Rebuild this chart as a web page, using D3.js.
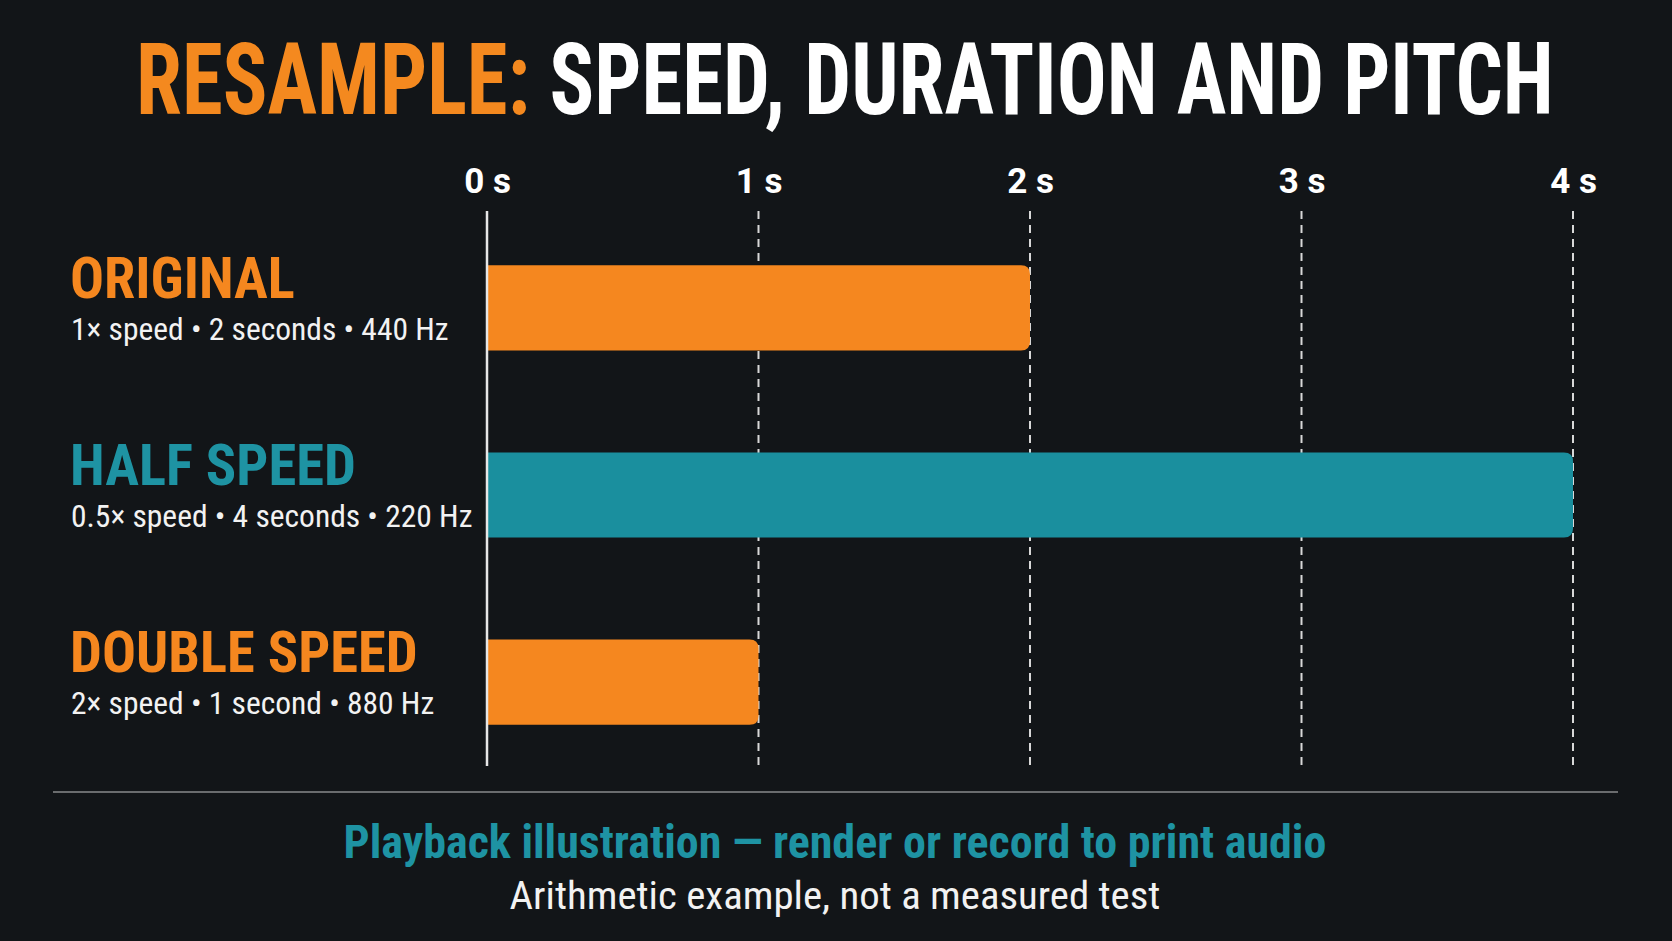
<!DOCTYPE html>
<html>
<head>
<meta charset="utf-8">
<script src="https://cdn.jsdelivr.net/npm/d3@7"></script>
<style>
  html, body { margin: 0; padding: 0; background: #121518; }
  svg { display: block; }
</style>
</head>
<body>
<script>
// ---------- data ----------
const categories = ["ORIGINAL", "HALF SPEED", "DOUBLE SPEED"];
const durations = [2, 4, 1];
const details = [
  "1× speed • 2 seconds • 440 Hz",
  "0.5× speed • 4 seconds • 220 Hz",
  "2× speed • 1 second • 880 Hz"
];
const tickValues = [0, 1, 2, 3, 4];
const tickLabels = ["0 s", "1 s", "2 s", "3 s", "4 s"];
const titleParts = ["RESAMPLE:", " SPEED, DURATION AND PITCH"];
const footerLines = [
  "Playback illustration — render or record to print audio",
  "Arithmetic example, not a measured test"
];

// ---------- style ----------
const W = 1672, H = 941;
const ORANGE = "#F5871F", TEAL = "#1A8F9E", TEAL_TXT = "#1E93A3";
const barColors = [ORANGE, TEAL, ORANGE];
const labelColors = [ORANGE, TEAL_TXT, ORANGE];
const NARROW = "'Liberation Sans Narrow', 'Arial Narrow', 'Roboto Condensed', 'DejaVu Sans Condensed', sans-serif";

const svg = d3.select("body").append("svg").attr("width", W).attr("height", H);
svg.append("rect").attr("width", W).attr("height", H).attr("fill", "#121518");

function fitWidth(sel, target, anchorX) {
  const node = sel.node();
  const w = node.getBBox().width;
  if (w > 0) {
    const k = target / w;
    sel.attr("transform", `translate(${anchorX},0) scale(${k},1) translate(${-anchorX},0)`);
  }
}

// ---------- scales ----------
const x = d3.scaleLinear().domain([0, 4]).range([487, 1573]);
const y = d3.scaleBand().domain(categories).range([211, 779]).paddingInner(0.545).paddingOuter(0.29);
const axisTop = 211, axisBottom = 766;

// ---------- title ----------
const title = svg.append("text")
  .attr("x", 136).attr("y", 114)
  .attr("xml:space", "preserve")
  .attr("font-family", NARROW).attr("font-weight", 700).attr("font-size", 100);
title.append("tspan").attr("fill", "#F4891F").text(titleParts[0]);
title.append("tspan").attr("fill", "#FFFFFF").text(titleParts[1]);
fitWidth(title, 1418, 136);

// ---------- grid (dashed) ----------
svg.append("g").selectAll("line")
  .data(tickValues.filter(d => d !== 0))
  .join("line")
  .attr("x1", d => x(d)).attr("x2", d => x(d))
  .attr("y1", axisTop).attr("y2", axisBottom)
  .attr("stroke", "#D8D8D8").attr("stroke-width", 2)
  .attr("stroke-dasharray", "8 6");

// ---------- tick labels via axis ----------
const xAxis = d3.axisTop(x).tickValues(tickValues).tickFormat((d, i) => tickLabels[i]).tickSize(0).tickPadding(0);
const axG = svg.append("g").attr("transform", "translate(0,193)").call(xAxis);
axG.select(".domain").remove();
axG.selectAll("text")
  .attr("fill", "#FFFFFF")
  .attr("font-family", "Roboto, 'DejaVu Sans', sans-serif")
  .attr("font-weight", 700)
  .attr("font-size", 35)
  .attr("dy", 0)
  .attr("text-anchor", "middle");

// ---------- bars ----------
function barPath(x0, x1, y0, h, r) {
  r = Math.min(r, (x1 - x0) / 2, h / 2);
  return `M${x0},${y0} H${x1 - r} Q${x1},${y0} ${x1},${y0 + r} V${y0 + h - r} Q${x1},${y0 + h} ${x1 - r},${y0 + h} H${x0} Z`;
}
svg.append("g").selectAll("path")
  .data(categories)
  .join("path")
  .attr("d", (c, i) => barPath(x(0), x(durations[i]), y(c), y.bandwidth(), 9))
  .attr("fill", (c, i) => barColors[i]);

// ---------- zero axis line ----------
svg.append("line")
  .attr("x1", x(0)).attr("x2", x(0))
  .attr("y1", axisTop).attr("y2", axisBottom)
  .attr("stroke", "#E6E6E6").attr("stroke-width", 2.5);

// ---------- category labels ----------
const lab = svg.append("g");
lab.selectAll("text.cat")
  .data(categories)
  .join("text").attr("class", "cat")
  .attr("x", 70)
  .attr("y", c => y(c) + y.bandwidth() / 2 - 10)
  .attr("font-family", NARROW).attr("font-weight", 700).attr("font-size", 56.5)
  .attr("fill", (c, i) => labelColors[i])
  .text(c => c);
lab.selectAll("text.det")
  .data(categories)
  .join("text").attr("class", "det")
  .attr("x", 71)
  .attr("y", c => y(c) + y.bandwidth() / 2 + 32)
  .attr("font-family", NARROW).attr("font-weight", 400).attr("font-size", 31.5)
  .attr("fill", "#F2F2F2")
  .text((c, i) => details[i]);

// ---------- separator ----------
svg.append("line")
  .attr("x1", 53).attr("x2", 1618).attr("y1", 792).attr("y2", 792)
  .attr("stroke", "#6A6C6E").attr("stroke-width", 2);

// ---------- footer ----------
const f1 = svg.append("text")
  .attr("x", 835).attr("y", 858).attr("text-anchor", "middle")
  .attr("font-family", NARROW).attr("font-weight", 700).attr("font-size", 46)
  .attr("fill", TEAL_TXT).text(footerLines[0]);
fitWidth(f1, 983, 835);
const f2 = svg.append("text")
  .attr("x", 835).attr("y", 909).attr("text-anchor", "middle")
  .attr("font-family", NARROW).attr("font-weight", 400).attr("font-size", 39)
  .attr("fill", "#F2F2F2").text(footerLines[1]);
fitWidth(f2, 651, 835);
</script>
</body>
</html>
